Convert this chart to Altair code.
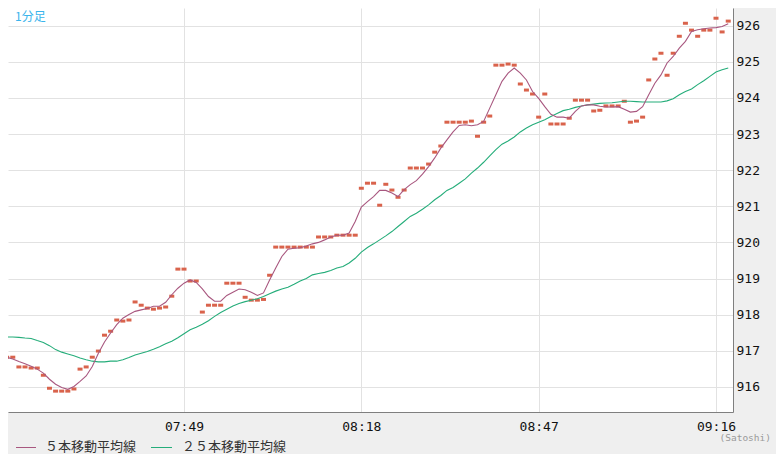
import altair as alt
import pandas as pd

# ---- data (1-minute bars from 07:20, one per minute) ----
start_time = "07:20"
prices = [
    916.82, 916.82, 916.55, 916.55, 916.52, 916.52, 916.32, 915.96, 915.88, 915.88,
    915.88, 915.94, 916.49, 916.55, 916.82, 916.99, 917.43, 917.54, 917.85, 917.82,
    917.85, 918.35, 918.26, 918.18, 918.15, 918.18, 918.21, 918.51, 919.26, 919.26,
    918.93, 918.93, 918.07, 918.26, 918.26, 918.26, 918.87, 918.87, 918.87, 918.48,
    918.40, 918.40, 918.42, 919.09, 919.87, 919.87, 919.87, 919.87, 919.87, 919.87,
    919.87, 920.15, 920.15, 920.15, 920.20, 920.20, 920.20, 920.20, 921.50, 921.64,
    921.64, 921.03, 921.61, 921.45, 921.25, 921.45, 922.06, 922.06, 922.06, 922.17,
    922.50, 922.67, 923.33, 923.33, 923.33, 923.33, 923.36, 922.94, 923.33, 923.50,
    924.91, 924.91, 924.94, 924.91, 924.39, 924.22, 924.11, 923.47, 924.11, 923.28,
    923.28, 923.28, 923.44, 923.94, 923.94, 923.94, 923.64, 923.66, 923.78, 923.78,
    923.78, 923.91, 923.33, 923.36, 923.47, 924.50, 925.08, 925.24, 924.63, 925.24,
    925.71, 926.07, 925.88, 925.71, 925.88, 925.88, 926.21, 925.83, 926.13,
]
ma5 = [
    916.82, 916.77, 916.70, 916.64, 916.57, 916.49, 916.38, 916.21, 916.07, 915.98,
    915.93, 916.01, 916.15, 916.30, 916.56, 916.93, 917.24, 917.49, 917.72, 917.90,
    918.00, 918.09, 918.13, 918.17, 918.23, 918.23, 918.34, 918.55, 918.73, 918.87,
    918.96, 918.89, 918.71, 918.50, 918.37, 918.37, 918.53, 918.62, 918.71, 918.69,
    918.62, 918.53, 918.60, 918.96, 919.29, 919.61, 919.81, 919.84, 919.85, 919.90,
    919.96, 920.00, 920.07, 920.15, 920.20, 920.20, 920.26, 920.58, 920.98, 921.13,
    921.27, 921.44, 921.44, 921.37, 921.27, 921.46, 921.60, 921.71, 921.89, 922.10,
    922.34, 922.61, 922.84, 923.06, 923.24, 923.26, 923.23, 923.26, 923.35, 923.72,
    924.09, 924.46, 924.69, 924.83, 924.69, 924.50, 924.18, 923.99, 923.76, 923.55,
    923.47, 923.47, 923.44, 923.63, 923.78, 923.81, 923.81, 923.77, 923.75, 923.75,
    923.76, 923.69, 923.61, 923.63, 923.76, 924.09, 924.41, 924.64, 924.97, 925.15,
    925.38, 925.57, 925.84, 925.89, 925.92, 925.94, 925.95, 925.98, 926.06,
]
ma25 = [
    917.38, 917.38, 917.37, 917.35, 917.34, 917.28, 917.23, 917.14, 917.03, 916.96,
    916.91, 916.86, 916.80, 916.75, 916.71, 916.69, 916.69, 916.71, 916.71, 916.75,
    916.81, 916.88, 916.93, 916.98, 917.04, 917.11, 917.19, 917.26, 917.36, 917.47,
    917.58, 917.65, 917.73, 917.83, 917.95, 918.06, 918.15, 918.24, 918.31, 918.36,
    918.40, 918.44, 918.50, 918.58, 918.65, 918.71, 918.76, 918.84, 918.93, 919.00,
    919.10, 919.14, 919.17, 919.22, 919.29, 919.33, 919.43, 919.56, 919.73, 919.86,
    919.96, 920.07, 920.18, 920.30, 920.44, 920.58, 920.72, 920.81, 920.92, 921.04,
    921.18, 921.30, 921.44, 921.52, 921.64, 921.76, 921.92, 922.06, 922.22, 922.40,
    922.57, 922.72, 922.81, 922.92, 923.06, 923.17, 923.26, 923.33, 923.40, 923.49,
    923.57, 923.65, 923.69, 923.74, 923.78, 923.81, 923.83, 923.85, 923.86, 923.87,
    923.89, 923.91, 923.91, 923.90, 923.89, 923.89, 923.89, 923.89, 923.92, 923.98,
    924.09, 924.18, 924.25, 924.37, 924.48, 924.60, 924.72, 924.78, 924.83,
]
x_tick_labels = ["07:49", "08:18", "08:47", "09:16"]
y_tick_values = [916, 917, 918, 919, 920, 921, 922, 923, 924, 925, 926]
legend_labels = ["５本移動平均線", "２５本移動平均線"]
chart_label = "1分足"
source_label = "(Satoshi)"


def to_min(s):
    h, m = s.split(":")
    return int(h) * 60 + int(m)


t0 = to_min(start_time)
minutes = [t0 + i for i in range(len(prices))]
df = pd.DataFrame({"minute": minutes, "price": prices, "ma5": ma5, "ma25": ma25})

C_CANDLE = "#d9634c"
C_MA5 = "#a8577f"
C_MA25 = "#25ad7a"
GRID = "#e2e2e2"
BORDER = "#7f7f7f"
MONO = "DejaVu Sans Mono"
JP = "Noto Sans CJK JP"

W, H = 725, 404
xs = alt.Scale(domain=[t0 + 0.218, t0 + 118.78], nice=False, zero=False)
ys = alt.Scale(domain=[915.302, 926.493], nice=False, zero=False)

x_axis = alt.Axis(
    values=[to_min(s) for s in x_tick_labels],
    labelExpr="timeFormat(datetime(2000, 0, 1, floor(datum.value / 60), datum.value % 60), '%H:%M')",
    grid=True, gridColor=GRID, gridWidth=1,
    domain=True, domainColor=BORDER, domainWidth=1,
    ticks=False, tickSize=0, labelPadding=8,
    labelFont=MONO, labelFontSize=13, labelColor="#111111",
    title=None,
)
y_axis = alt.Axis(
    orient="right", values=y_tick_values, format="d",
    grid=True, gridColor=GRID, gridWidth=1,
    domain=True, domainColor=BORDER, domainWidth=1,
    ticks=False, tickSize=0, labelPadding=3,
    labelFont=MONO, labelFontSize=13, labelColor="#111111",
    title=None,
)

base = alt.Chart(df)

candles = base.mark_tick(orient="horizontal", size=5, thickness=3, color=C_CANDLE, opacity=1).encode(
    x=alt.X("minute:Q", scale=xs, axis=x_axis),
    y=alt.Y("price:Q", scale=ys, axis=y_axis),
)
line25 = base.mark_line(color=C_MA25, strokeWidth=1.1).encode(
    x=alt.X("minute:Q", scale=xs), y=alt.Y("ma25:Q", scale=ys)
)
line5 = base.mark_line(color=C_MA5, strokeWidth=1.1).encode(
    x=alt.X("minute:Q", scale=xs), y=alt.Y("ma5:Q", scale=ys)
)

one = pd.DataFrame({"k": [0]})
title_txt = alt.Chart(one).mark_text(
    text=chart_label, font=JP, fontSize=12, color="#3ab4ec", align="left", baseline="middle"
).encode(x=alt.value(7), y=alt.value(9))

src_txt = alt.Chart(one).mark_text(
    text=source_label, font=MONO, fontSize=9.5, color="#9a9a9a", align="right", baseline="middle"
).encode(x=alt.value(763), y=alt.value(430))

leg_line1 = alt.Chart(one).mark_rule(color=C_MA5, strokeWidth=1).encode(
    x=alt.value(8), x2=alt.value(28), y=alt.value(439.5)
)
leg_line2 = alt.Chart(one).mark_rule(color=C_MA25, strokeWidth=1).encode(
    x=alt.value(143), x2=alt.value(164), y=alt.value(439.5)
)
leg_txt1 = alt.Chart(one).mark_text(
    text=legend_labels[0], font=JP, fontSize=13, color="#333333", align="left", baseline="middle"
).encode(x=alt.value(37), y=alt.value(439))
leg_txt2 = alt.Chart(one).mark_text(
    text=legend_labels[1], font=JP, fontSize=13, color="#333333", align="left", baseline="middle"
).encode(x=alt.value(174), y=alt.value(439))

chart = alt.layer(
    candles, line25, line5, title_txt, src_txt, leg_line1, leg_line2, leg_txt1, leg_txt2
).properties(
    width=W, height=H,
    autosize=alt.AutoSizeParams(type="none"),
    padding={"left": 0, "top": 0, "right": 43, "bottom": 42},
    background="#efefef",
).configure_view(
    fill="white", stroke=None
)

chart.save("out.html", embed_options={"renderer": "svg", "actions": False})
